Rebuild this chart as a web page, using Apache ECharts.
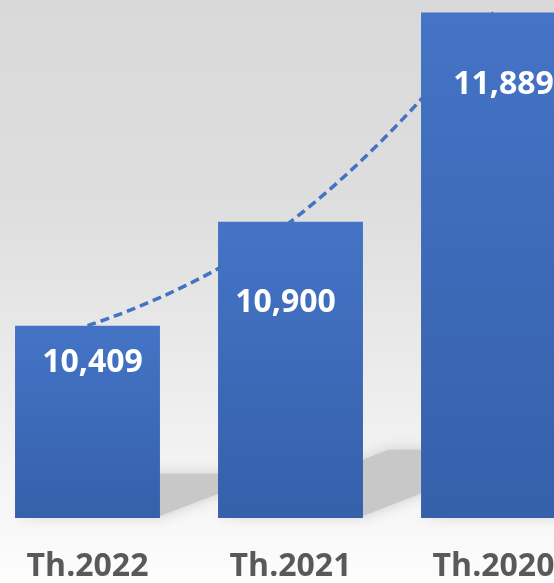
<!DOCTYPE html>
<html>
<head>
<meta charset="utf-8">
<script src="https://cdn.jsdelivr.net/npm/echarts@6/dist/echarts.min.js"></script>
<style>
  html, body { margin: 0; padding: 0; }
  #chartDom {
    width: 554px;
    height: 583px;
    /* nền xám nhạt dần */
    background: linear-gradient(to bottom, #d9d9d9 0%, #dedede 35%, #f3f3f3 80%, #fdfdfd 100%);
  }
</style>
</head>
<body>
<div id="chartDom"></div>
<script>
// dữ liệu
const categories = ["Th.2022", "Th.2021", "Th.2020"];
const values = [10409, 10900, 11889];

// vị trí nhãn trong cột (dx, dy)
const labelOffsets = [[5, 21], [-5, 65], [10, 56]];

const myChart = echarts.init(document.getElementById("chartDom"));

const barData = values.map((v, i) => ({
  value: v,
  label: { offset: labelOffsets[i] }
}));

myChart.setOption({
  animation: false,
  grid: {
    left: -14,
    right: -41,
    top: -11,
    bottom: 65,
    outerBoundsMode: "none"
  },
  xAxis: {
    type: "category",
    data: categories,
    axisLine: { show: false },
    axisTick: { show: false },
    axisLabel: {
      interval: 0,
      margin: 33,
      color: "#595959",
      fontFamily: "Open Sans",
      fontWeight: "bold",
      fontSize: 32
    }
  },
  yAxis: {
    type: "value",
    min: 9500,
    max: 12000,
    show: false,
    splitLine: { show: false }
  },
  series: [
    {
      // bóng đổ phía sau cột
      type: "custom",
      z: 0,
      silent: true,
      data: values,
      renderItem: function (params, api) {
        const base = api.coord([api.value(0), 9500]);
        const top = api.coord([api.value(0), api.value(1)]);
        const w = api.size([1, 0])[0] * 0.714;
        const x0 = base[0] - w / 2;
        const x1 = base[0] + w / 2;
        const h = (base[1] - top[1]) * 0.23;
        const dx = h * 2.5;
        return {
          type: "polygon",
          shape: {
            points: [
              [x0, base[1] - 2],
              [x1, base[1] - 2],
              [x1 + dx, base[1] - h],
              [x0 + dx, base[1] - h]
            ]
          },
          style: {
            fill: "#c8c8c8",
            shadowBlur: 14,
            shadowColor: "#cccccc"
          }
        };
      },
      encode: { x: 0, y: 1 }
    },
    {
      type: "line",
      z: 1,
      data: values,
      smooth: 0.5,
      symbol: "none",
      lineStyle: {
        color: "#4472C4",
        width: 3.5,
        type: [9, 5]
      }
    },
    {
      type: "bar",
      z: 2,
      barWidth: "71.4%",
      data: barData,
      itemStyle: {
        color: new echarts.graphic.LinearGradient(0, 0, 0, 1, [
          { offset: 0, color: "#4574c6" },
          { offset: 1, color: "#3560aa" }
        ])
      },
      label: {
        show: true,
        position: "insideTop",
        distance: 0,
        color: "#ffffff",
        fontFamily: "Open Sans",
        fontWeight: "bold",
        fontSize: 32,
        formatter: (p) => p.value.toLocaleString("en-US")
      }
    }
  ]
});
</script>
</body>
</html>
